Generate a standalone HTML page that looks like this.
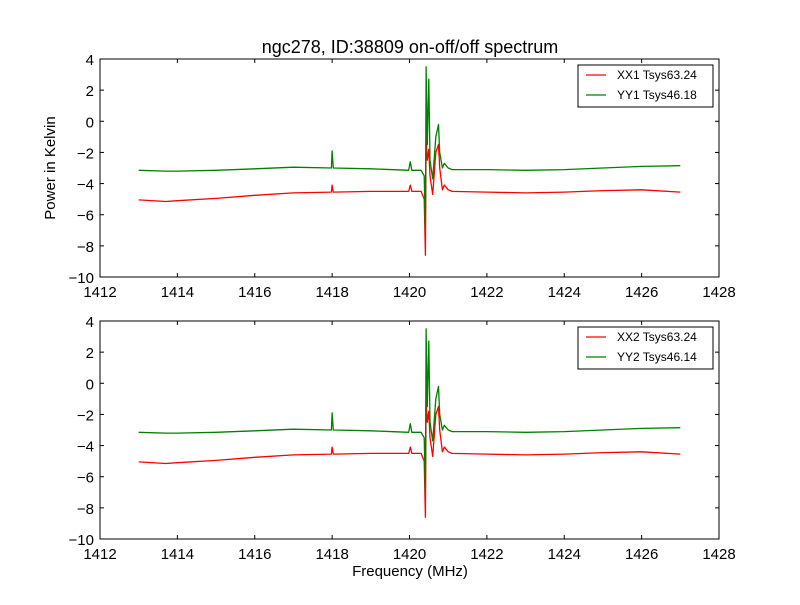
<!DOCTYPE html>
<html><head><meta charset="utf-8">
<style>
body{margin:0;background:#fff;}
svg text{font-family:"Liberation Sans","DejaVu Sans",sans-serif;}
</style></head>
<body>
<svg id="fig" width="800" height="600" viewBox="0 0 800 600">
<rect width="800" height="600" fill="#fff"/>
<text x="410" y="53" font-size="18" text-anchor="middle">ngc278, ID:38809 on-off/off spectrum</text>
<text x="55" y="168" font-size="15" text-anchor="middle" transform="rotate(-90 55 168)">Power in Kelvin</text>
<text x="410" y="576" font-size="15" text-anchor="middle">Frequency (MHz)</text>
</svg>
<script>
const xTicks=[1412,1414,1416,1418,1420,1422,1424,1426,1428];
const yTicks=[4,2,0,-2,-4,-6,-8,-10];
const freqs=[1413,1413.7,1414,1415,1416,1417,1417.98,1418.0,1418.03,1419,1419.98,1420.02,1420.06,1420.3,1420.38,1420.41,1420.43,1420.46,1420.5,1420.53,1420.6,1420.68,1420.75,1420.78,1420.85,1420.9,1421.0,1421.1,1422,1423,1424,1425,1426,1427];
const xx1=[-5.05,-5.15,-5.1,-4.95,-4.75,-4.6,-4.55,-4.1,-4.55,-4.5,-4.5,-4.1,-4.5,-4.5,-5.0,-8.6,-1.0,-2.5,-1.8,-3.5,-4.7,-2.0,-1.5,-3.0,-4.4,-4.1,-4.4,-4.5,-4.55,-4.6,-4.55,-4.45,-4.4,-4.55];
const yy1=[-3.15,-3.2,-3.2,-3.15,-3.05,-2.95,-3.0,-1.9,-3.0,-3.05,-3.15,-2.6,-3.15,-3.15,-3.5,-7.0,3.5,-1.5,2.7,-2.5,-3.7,-1.0,-0.2,-2.0,-3.0,-2.7,-3.0,-3.1,-3.1,-3.15,-3.1,-3.0,-2.9,-2.85];
const xx2=[-5.05,-5.15,-5.1,-4.95,-4.75,-4.6,-4.55,-4.1,-4.55,-4.5,-4.5,-4.1,-4.5,-4.5,-5.0,-8.6,-1.0,-2.5,-1.8,-3.5,-4.7,-2.0,-1.5,-3.0,-4.4,-4.1,-4.4,-4.5,-4.55,-4.6,-4.55,-4.45,-4.4,-4.55];
const yy2=[-3.15,-3.2,-3.2,-3.15,-3.05,-2.95,-3.0,-1.9,-3.0,-3.05,-3.15,-2.6,-3.15,-3.15,-3.5,-7.0,3.5,-1.5,2.7,-2.5,-3.7,-1.0,-0.2,-2.0,-3.0,-2.7,-3.0,-3.1,-3.1,-3.15,-3.1,-3.0,-2.9,-2.85];
const labels1=["XX1 Tsys63.24","YY1 Tsys46.18"];
const labels2=["XX2 Tsys63.24","YY2 Tsys46.14"];
const NS="http://www.w3.org/2000/svg";
const svg=document.getElementById('fig');
function mk(t,a,p){const e=document.createElementNS(NS,t);for(const k in a)e.setAttribute(k,a[k]);(p||svg).appendChild(e);return e;}
function panel(top,red,green,labels,idx){
  const L=100,R=719,T=top,B=top+218;
  const sx=v=>L+(v-1412)/16*(R-L);
  const sy=v=>T+(4-v)/14*(B-T);
  const g=mk('g',{});
  
  
  const series=[[red,'#ff0000','xx'],[green,'#008000','yy']];
  series.forEach(s=>{
    const d=freqs.map((f,i)=>(i?'L':'M')+sx(f).toFixed(1)+','+sy(s[0][i]).toFixed(1)).join(' ');
    const p=mk('path',{d:d,fill:'none',stroke:s[1],'stroke-width':1.3,'stroke-linejoin':'round'},g);
    
    
  });
  const fr=mk('rect',{x:L,y:T,width:R-L,height:B-T,fill:'none',stroke:'#000','stroke-width':1},g);
  
  
  xTicks.forEach(v=>{
    const x=sx(v);
    mk('line',{x1:x,y1:B,x2:x,y2:B-4,stroke:'#000'},g);
    mk('line',{x1:x,y1:T,x2:x,y2:T+4,stroke:'#000'},g);
    const t=mk('text',{x:x,y:B+20,'font-size':15,'text-anchor':'middle'},g);
    t.textContent=v;
    
    
  });
  yTicks.forEach(v=>{
    const y=sy(v);
    mk('line',{x1:L,y1:y,x2:L+4,y2:y,stroke:'#000'},g);
    mk('line',{x1:R,y1:y,x2:R-4,y2:y,stroke:'#000'},g);
    const t=mk('text',{x:L-6,y:y+6,'font-size':15,'text-anchor':'end'},g);
    t.textContent=(v<0?'\u2212':'')+Math.abs(v);
    
    
  });
  const lg=mk('g',{},g);
  
  
  mk('rect',{x:578,y:T+6,width:135,height:42,fill:'#fff',stroke:'#000'},lg);
  [['#ff0000',labels[0]],['#008000',labels[1]]].forEach((e,i)=>{
    const y=T+16+i*20;
    mk('line',{x1:586,y1:y,x2:606,y2:y,stroke:e[0],'stroke-width':1.3},lg);
    const t=mk('text',{x:617,y:y+4,'font-size':12},lg);
    t.textContent=e[1];
    
    
  });
}
panel(59,xx1,yy1,labels1,1);
panel(321,xx2,yy2,labels2,2);
</script>
</body></html>
